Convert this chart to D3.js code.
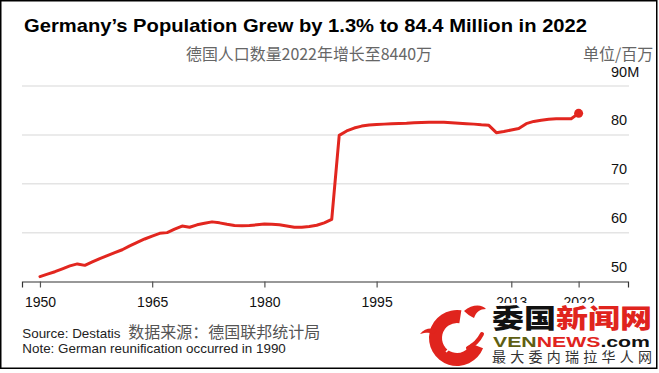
<!DOCTYPE html>
<html>
<head>
<meta charset="utf-8">
<script src="https://cdn.jsdelivr.net/npm/d3@7"></script>
<style>
  body { margin: 0; background: #fff; }
  svg { display: block; }
  .latin { font-family: "Liberation Sans", Arial, sans-serif; }
  .cjk { font-family: "Noto Sans CJK SC", sans-serif; }
</style>
</head>
<body>
<svg width="659" height="373"></svg>
<script>
// Datos (millones de habitantes)
const years = [1950, 1951, 1952, 1953, 1954, 1955, 1956, 1957, 1958, 1959,
  1960, 1961, 1962, 1963, 1964, 1965, 1966, 1967, 1968, 1969,
  1970, 1971, 1972, 1973, 1974, 1975, 1976, 1977, 1978, 1979,
  1980, 1981, 1982, 1983, 1984, 1985, 1986, 1987, 1988, 1989,
  1990, 1991, 1992, 1993, 1994, 1995, 1996, 1997, 1998, 1999,
  2000, 2001, 2002, 2003, 2004, 2005, 2006, 2007, 2008, 2009,
  2010, 2011, 2012, 2013, 2014, 2015, 2016, 2017, 2018, 2019,
  2020, 2021, 2022];
const population = [51.0, 51.5, 52.0, 52.6, 53.2, 53.6, 53.3, 54.0, 54.7, 55.3,
  55.9, 56.5, 57.3, 58.0, 58.7, 59.3, 59.85, 60.0, 60.7, 61.35,
  61.1, 61.6, 61.9, 62.2, 62.0, 61.7, 61.45, 61.4, 61.45, 61.6,
  61.75, 61.7, 61.6, 61.35, 61.1, 61.1, 61.25, 61.5, 62.0, 62.7,
  79.9, 80.8, 81.4, 81.8, 82.0, 82.1, 82.2, 82.3, 82.35, 82.4,
  82.5, 82.55, 82.6, 82.6, 82.6, 82.5, 82.4, 82.3, 82.2, 82.05,
  81.95, 80.45, 80.7, 81.0, 81.3, 82.3, 82.75, 83.0, 83.2, 83.3,
  83.3, 83.3, 84.4];
const xTicks = [1950, 1965, 1980, 1995, 2013, 2022];
const yTicks = [50, 60, 70, 80, 90];
const yTickLabels = ["50", "60", "70", "80", "90M"];

const data = years.map((y, i) => ({ year: y, value: population[i] }));

const svg = d3.select("svg");
const red = "#e2261f";

// Escalas
const x = d3.scaleLinear().domain([1947.6, 2028.6]).range([22, 628]);
const y = d3.scaleLinear().domain([50, 90]).range([281.5, 86]);

// Titulo y subtitulos
svg.append("text").attr("class", "latin")
  .attr("x", 24).attr("y", 32.3)
  .attr("font-size", 18.5).attr("font-weight", "bold").attr("fill", "#000")
  .attr("textLength", 563).attr("lengthAdjust", "spacingAndGlyphs")
  .text("Germany’s Population Grew by 1.3% to 84.4 Million in 2022");

svg.append("text").attr("class", "cjk")
  .attr("x", 186).attr("y", 59.5)
  .attr("font-size", 16).attr("fill", "#666")
  .attr("textLength", 246).attr("lengthAdjust", "spacingAndGlyphs")
  .text("德国人口数量2022年增长至8440万");

svg.append("text").attr("class", "cjk")
  .attr("x", 583).attr("y", 59.5)
  .attr("font-size", 16).attr("fill", "#666")
  .text("单位/百万");

// Lineas de la cuadricula
svg.append("g").selectAll("line")
  .data(yTicks.filter(d => d > 50))
  .enter().append("line")
  .attr("x1", 22).attr("x2", 629)
  .attr("y1", d => y(d)).attr("y2", d => y(d))
  .attr("stroke", "#e4e4e4").attr("stroke-width", 1.5);

// Etiquetas del eje Y
svg.append("g").selectAll("text")
  .data(yTicks)
  .enter().append("text").attr("class", "latin")
  .attr("x", 611).attr("y", d => y(d) - 9.5)
  .attr("font-size", 14.5).attr("fill", "#111")
  .text((d, i) => yTickLabels[i]);

// Eje X
const xAxis = svg.append("g").attr("transform", `translate(0, ${y(50)})`)
  .call(d3.axisBottom(x).tickValues(xTicks).tickSize(6).tickPadding(10).tickFormat(d3.format("d")));
xAxis.select(".domain").attr("stroke", "#333").attr("stroke-width", 1.2);
xAxis.selectAll(".tick line").attr("stroke", "#555").attr("stroke-width", 1.2);
xAxis.selectAll(".tick text").attr("class", "latin")
  .attr("font-size", 14).attr("fill", "#111").attr("font-family", null);

// Linea de poblacion
svg.append("path").datum(data)
  .attr("fill", "none").attr("stroke", red).attr("stroke-width", 3)
  .attr("stroke-linejoin", "round").attr("stroke-linecap", "round")
  .attr("d", d3.line().x(d => x(d.year)).y(d => y(d.value)));

const last = data[data.length - 1];
svg.append("circle")
  .attr("cx", x(last.year)).attr("cy", y(last.value)).attr("r", 4.5)
  .attr("fill", red);

// Fuente y nota
const src = svg.append("text").attr("y", 337.7);
src.append("tspan").attr("class", "latin").attr("x", 22.3)
  .attr("font-size", 13.4).attr("fill", "#222").text("Source: Destatis");
src.append("tspan").attr("class", "cjk").attr("x", 128.3)
  .attr("font-size", 16).attr("fill", "#555").text("数据来源：德国联邦统计局");

svg.append("text").attr("class", "latin")
  .attr("x", 22.3).attr("y", 352.7)
  .attr("font-size", 13.4).attr("fill", "#222")
  .text("Note: German reunification occurred in 1990");

// Logo (marca de agua)
const logo = svg.append("g");
logo.append("rect").attr("x", 418).attr("y", 303).attr("width", 238).attr("height", 65).attr("fill", "#fff");

// Dragon simplificado
logo.append("path")
  .attr("transform", "translate(457, 338)")
  .attr("d", d3.arc().innerRadius(15).outerRadius(28).startAngle(0.62 * Math.PI).endAngle(2.05 * Math.PI)())
  .attr("fill", "#e0241d");
logo.append("path")
  .attr("d", "M464,311 C472,304 482,304 486,309 C480,309 476,312 474,318 C470,316 467,314 464,311 Z")
  .attr("fill", "#e0241d");
logo.append("path")
  .attr("d", "M420,334 C425,328 433,327 437,331 L433,334 C429,332 425,333 420,334 Z")
  .attr("fill", "#e0241d");
logo.append("path")
  .attr("d", "M446,352 C452,346 458,340 459,332")
  .attr("fill", "none").attr("stroke", "#fff").attr("stroke-width", 1.5);
logo.append("path")
  .attr("d", "M468,348 C474,345 479,340 482,334")
  .attr("fill", "none").attr("stroke", "#e0241d").attr("stroke-width", 4).attr("stroke-linecap", "round");

const title = logo.append("text").attr("class", "cjk")
  .attr("x", 492).attr("y", 327.5)
  .attr("font-size", 26).attr("font-weight", 900)
  .attr("textLength", 160).attr("lengthAdjust", "spacingAndGlyphs");
title.append("tspan").attr("fill", "#111").text("委国");
title.append("tspan").attr("fill", "#e0241d").text("新闻网");

const ven = logo.append("text").attr("class", "latin")
  .attr("x", 493).attr("y", 346.5)
  .attr("font-size", 15).attr("font-weight", "bold")
  .attr("textLength", 157).attr("lengthAdjust", "spacingAndGlyphs");
ven.append("tspan").attr("fill", "#5f5f12").text("VEN");
ven.append("tspan").attr("fill", "#e0241d").text("NEWS");
ven.append("tspan").attr("fill", "#111").text(".com");

logo.append("text").attr("class", "cjk")
  .attr("x", 492).attr("y", 361.5)
  .attr("font-size", 14).attr("fill", "#333")
  .attr("textLength", 160).attr("lengthAdjust", "spacing")
  .text("最大委内瑞拉华人网");

// Marco
svg.append("rect").attr("x", 0.75).attr("y", 0.75).attr("width", 656).attr("height", 367.5)
  .attr("fill", "none").attr("stroke", "#000").attr("stroke-width", 1.5);
</script>
</body>
</html>
